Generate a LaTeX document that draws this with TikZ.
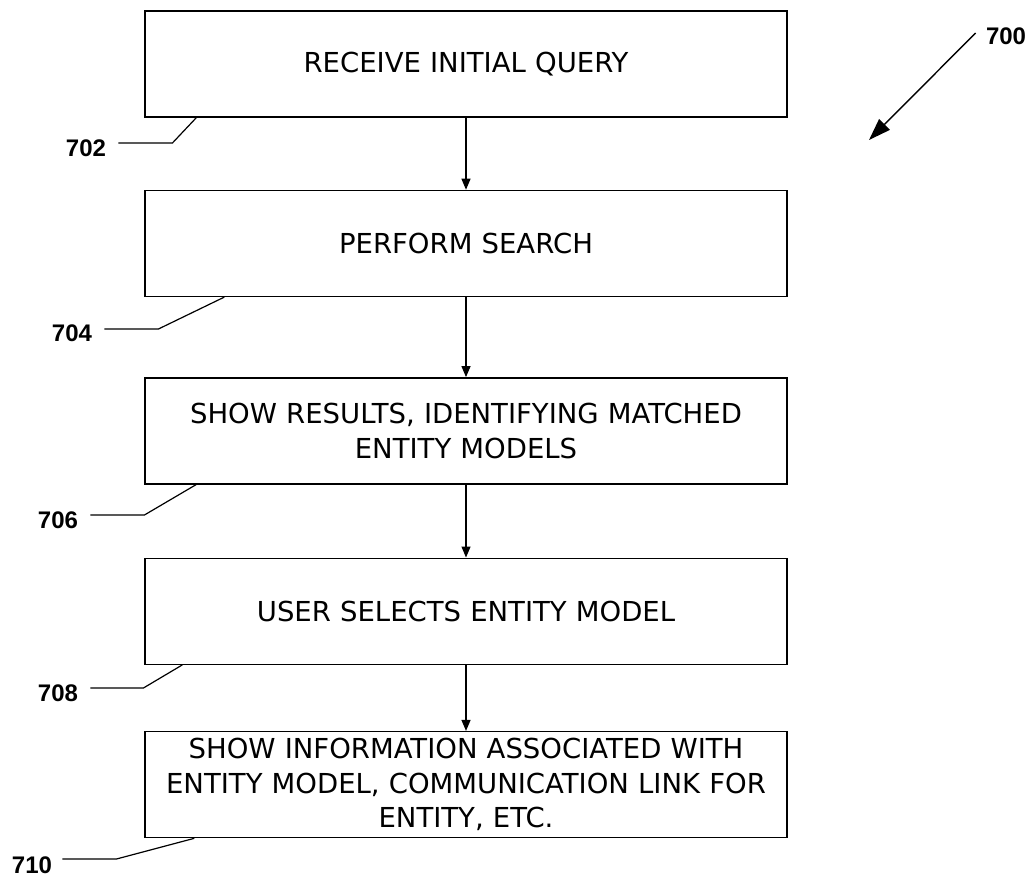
\documentclass[tikz,border=0pt]{standalone}
\usepackage{fontspec}
\setmainfont{DejaVu Sans}
\newfontfamily\reffont{Liberation Sans}
\usepackage{tikz}
\usetikzlibrary{arrows.meta, positioning}

\begin{document}
\begin{tikzpicture}[
    x=0.5pt, y=-0.5pt,
    stepbox/.style={rectangle, draw, line width=0.7pt, minimum width=321pt,
                    minimum height=53pt, text width=318pt, align=center,
                    inner sep=0pt, font=\fontsize{13.75}{17.3}\selectfont},
    ref/.style={inner sep=1pt, font=\reffont\bfseries\fontsize{12}{14}\selectfont},
    arr/.style={-{Triangle[length=5.5pt, width=4.5pt]}, line width=0.6pt},
    lead/.style={line width=0.6pt},
    bigarr/.style={-{Triangle[length=11pt, width=7.5pt]}, line width=0.7pt},
  ]
    \useasboundingbox (0,0) rectangle (1036,878);

    \node[stepbox] (recv) at (466,64) {RECEIVE INITIAL QUERY};
    \node[stepbox, below=36pt of recv]     (search) {PERFORM SEARCH};
    \node[stepbox, below=40pt of search]   (show)   {SHOW RESULTS, IDENTIFYING MATCHED\\ ENTITY MODELS};
    \node[stepbox, below=36.5pt of show]   (select) {USER SELECTS ENTITY MODEL};
    \node[stepbox, below=33pt of select]   (info)   {SHOW INFORMATION ASSOCIATED WITH\\ ENTITY MODEL, COMMUNICATION LINK FOR\\ ENTITY, ETC.};

    \draw[arr] (recv)   -- (search);
    \draw[arr] (search) -- (show);
    \draw[arr] (show)   -- (select);
    \draw[arr] (select) -- (info);

    % reference numerals
    \node[ref] (n700) at (1006,36)  {700};
    \node[ref] (n702) at (86,148)   {702};
    \node[ref] (n704) at (72,333)   {704};
    \node[ref] (n706) at (58,520)   {706};
    \node[ref] (n708) at (58,693)   {708};
    \node[ref] (n710) at (32,865)   {710};

    \coordinate (tip700) at (869,140);
    \draw[bigarr] ([xshift=-4pt,yshift=1.5pt]n700.west) -- (tip700);

    \draw[lead] ([xshift=5pt,yshift=2.5pt]n702.east) -- ++(54,0) -- ([xshift=26pt]recv.south west);
    \draw[lead] ([xshift=5pt,yshift=2pt]n704.east)   -- ++(54,0) -- ([xshift=40pt]search.south west);
    \draw[lead] ([xshift=5pt,yshift=2.5pt]n706.east) -- ++(54,0) -- ([xshift=26pt]show.south west);
    \draw[lead] ([xshift=5pt,yshift=2.5pt]n708.east) -- ++(53,0) -- ([xshift=19pt]select.south west);
    \draw[lead] ([xshift=4pt,yshift=3pt]n710.east)   -- ++(54,0) -- ([xshift=25pt]info.south west);
  \end{tikzpicture}
\end{document}
